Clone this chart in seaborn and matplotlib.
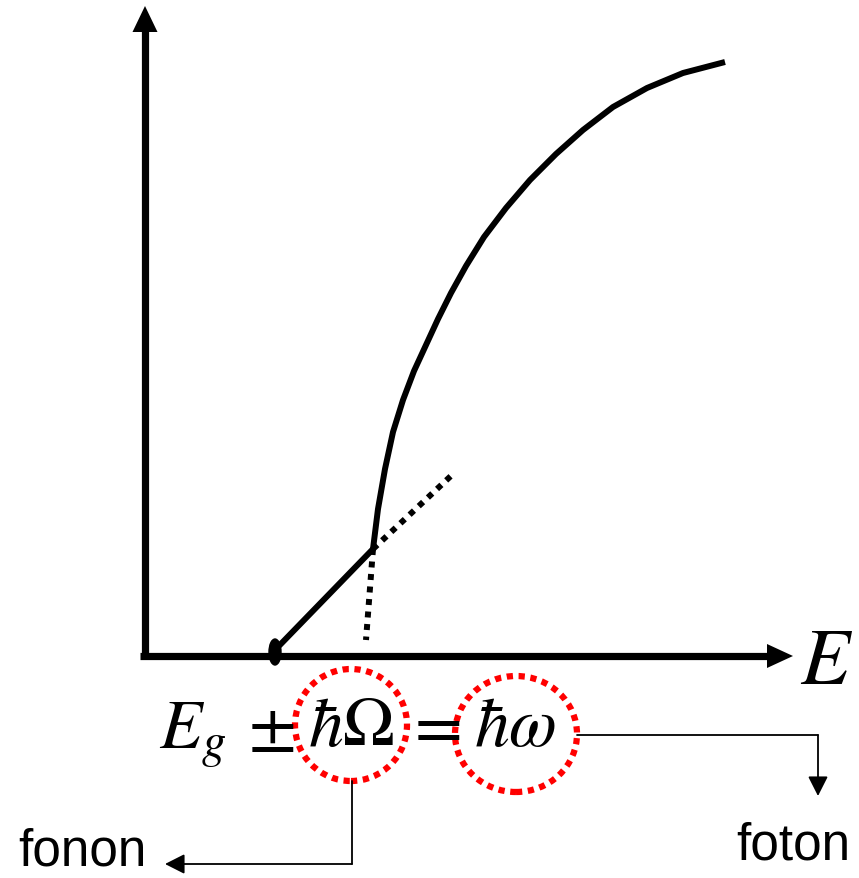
import numpy as np
import pandas as pd
import seaborn as sns
import matplotlib.pyplot as plt
from matplotlib.patches import Ellipse

# coordinates: origin at the corner of the E / alpha axes (1 unit ~ 1 px)
axis_len_x = 648
axis_len_y = 650

# absorption edge: linear (phonon-assisted) part then the steep rise
onset = (130, 4)
kink = (228, 107)
curve_e = [228, 233, 240, 248, 258, 269, 281, 293, 306, 321, 339, 361, 385,
           411, 438, 468, 502, 538, 580]
curve_a = [107, 147, 187, 224, 256, 285, 311, 337, 363, 390, 419, 448, 476,
           502, 526, 549, 568, 583, 594]
tangent_tip = (308, 182)
drop_tip = (221, 16)

# circled terms of the formula and the pointers to their labels
phonon_term = (206, -69, 112, 112)
photon_term = (371, -78, 122, 116)
phonon_path_e = [207, 207, 20]
phonon_path_a = [-125, -208, -208]
photon_path_e = [432, 673, 673]
photon_path_a = [-79, -79, -140]


def main():
    sns.set_style("white")
    plt.rcParams["mathtext.fontset"] = "stix"
    plt.rcParams["text.color"] = "black"

    fig = plt.figure(figsize=(8.59, 8.79), dpi=100)
    ax = fig.add_axes([0, 0, 1, 1])
    ax.set_xlim(-145, 714)
    ax.set_ylim(-222, 657)
    ax.axis("off")

    # axes with arrow heads
    ax.plot([-5, axis_len_x - 20], [0, 0], color="black", lw=5.2, solid_capstyle="butt")
    ax.plot([0, 0], [-3, axis_len_y - 20], color="black", lw=5.2, solid_capstyle="butt")
    ax.fill([axis_len_x - 26, axis_len_x, axis_len_x - 26], [12, 0, -12], color="black", lw=0)
    ax.fill([-12.5, 0, 12.5], [axis_len_y - 26, axis_len_y, axis_len_y - 26], color="black", lw=0)

    # absorption curve
    df = pd.DataFrame({"E": curve_e, "alpha": curve_a})
    sns.lineplot(data=df, x="E", y="alpha", sort=False, color="black", lw=4.3,
                 solid_joinstyle="round", solid_capstyle="butt", ax=ax)
    sns.lineplot(x=[onset[0], kink[0]], y=[onset[1] + 2, kink[1]], sort=False,
                 color="black", lw=4.3, ax=ax)
    ax.plot([kink[0], tangent_tip[0]], [kink[1], tangent_tip[1]], color="black",
            lw=4.3, linestyle=(0, (1, 1.1)))
    ax.plot([kink[0], drop_tip[0]], [kink[1], drop_tip[1]], color="black",
            lw=4.3, linestyle=(0, (1, 1.1)))
    ax.add_patch(Ellipse(onset, 12, 26, color="black"))

    ax.text(655, -5, "$E$", fontsize=58, ha="left", va="center")

    # formula
    ax.text(14, -92, "$E_g$", fontsize=50, ha="left", va="baseline")
    ax.text(126, -89, r"$\pm$", fontsize=50, ha="center", va="baseline")
    ax.text(206, -89, r"$\hbar\Omega$", fontsize=50, ha="center", va="baseline")
    ax.text(287, -89, "$=$", fontsize=50, ha="center", va="baseline")
    ax.text(370, -89, r"$\hbar\omega$", fontsize=50, ha="center", va="baseline")

    for cx, cy, w, h in (phonon_term, photon_term):
        ax.add_patch(Ellipse((cx, cy), w, h, fill=False, edgecolor="#ff0000",
                             lw=4.5, linestyle=(0, (1, 0.9))))

    # pointers to labels
    head = "-|>,head_length=0.75,head_width=0.38"
    for pe, pa in ((phonon_path_e, phonon_path_a), (photon_path_e, photon_path_a)):
        ax.plot(pe[:2], pa[:2], color="black", lw=1.3)
        ax.annotate("", xy=(pe[2], pa[2]), xytext=(pe[1], pa[1]),
                    arrowprops=dict(arrowstyle=head, color="black", lw=1.3,
                                    mutation_scale=16, shrinkA=0, shrinkB=0))

    ax.text(-127, -220, "fonon", fontsize=37, family="Liberation Sans",
            ha="left", va="bottom")
    ax.text(648, -203, "foton", fontsize=37, family="Liberation Sans",
            ha="center", va="baseline")

    fig.savefig("out.png", dpi=100)


if __name__ == "__main__":
    main()
